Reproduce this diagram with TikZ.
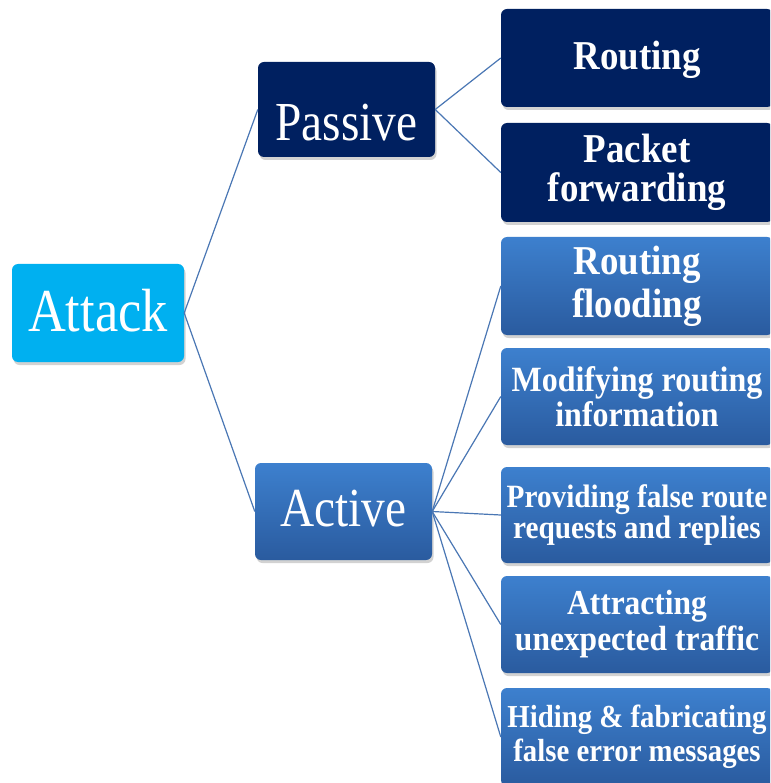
\documentclass[tikz,border=0pt]{standalone}
\usepackage{fontspec}
\usetikzlibrary{shadows}
\newfontfamily\regf[FakeStretch=0.86]{Liberation Serif}
\newfontfamily\bldf[FakeStretch=0.9]{Liberation Serif}
\definecolor{cyanA}{HTML}{00B0F0}
\definecolor{navy}{HTML}{002060}
\definecolor{actTop}{HTML}{3D80CE}
\definecolor{actBot}{HTML}{2A5B9F}
\definecolor{connC}{HTML}{4A77B4}
\tikzset{
  box/.style={rounded corners=6pt, inner sep=0pt, align=center, text=white,
    drop shadow={opacity=0.35, shadow xshift=1.5pt, shadow yshift=-3pt}},
  cyanbox/.style={box, fill=cyanA},
  navybox/.style={box, fill=navy},
  gradbox/.style={box, top color=actTop, bottom color=actBot},
  rightbox/.style={minimum width=272pt},
  conn/.style={draw=connC, line width=1.2pt},
  bigtxt/.style={font={\regf\fontsize{#1}{#1}\selectfont}},
  smtxt/.style 2 args={font={\bldf\bfseries\fontsize{#1}{#2}\selectfont}}
}
\begin{document}
\begin{tikzpicture}[x=1pt,y=-1pt]
\useasboundingbox (0,0) rectangle (770,783);
\clip (0,0) rectangle (770,783);
\fill[white] (0,0) rectangle (770,783);
\node[cyanbox, bigtxt=61, minimum width=172pt, minimum height=98pt, text height=36pt, text depth=0pt] (attack) at (98,313) {Attack};
\node[navybox, bigtxt=55, minimum width=177pt, minimum height=95pt, text height=63pt, text depth=0pt] (passive) at (346.5,109.5) {Passive};
\node[gradbox, bigtxt=55, minimum width=177pt, minimum height=97pt, text height=29pt, text depth=0pt] (active) at (343.5,511.5) {Active};
\node[navybox, rightbox, smtxt={41}{43}, minimum height=98pt, text height=24pt, text depth=0pt] (r1) at (637,58) {Routing};
\node[navybox, rightbox, smtxt={41}{39}, minimum height=99pt] (r2) at (637,172.5) {Packet\\forwarding};
\node[gradbox, rightbox, smtxt={41}{43}, minimum height=98pt] (a1) at (637,286) {Routing\\flooding};
\node[gradbox, rightbox, smtxt={35.5}{35}, minimum height=97pt] (a2) at (637,396.5) {Modifying routing\\information};
\node[gradbox, rightbox, smtxt={32.5}{31}, minimum height=96pt] (a3) at (637,515) {Providing false route\\requests and replies};
\node[gradbox, rightbox, smtxt={35}{36}, minimum height=97pt] (a4) at (637,624.5) {Attracting\\unexpected traffic};
\node[gradbox, rightbox, smtxt={32}{34}, minimum height=98pt] (a5) at (637,737) {Hiding \& fabricating\\false error messages};
\draw[conn] (attack.east) -- (passive.west);
\draw[conn] (attack.east) -- (active.west);
\draw[conn] (passive.east) -- (r1.west);
\draw[conn] (passive.east) -- (r2.west);
\foreach \n in {a1,a2,a3,a4,a5} \draw[conn] (active.east) -- (\n.west);
\end{tikzpicture}
\end{document}
